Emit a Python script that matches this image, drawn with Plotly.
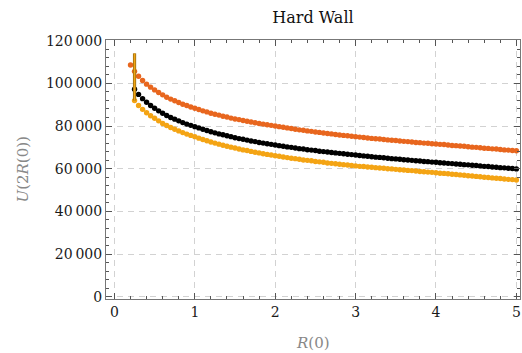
import plotly.graph_objects as go

# ---- data (U values in thousands) ----
x_orange = [round(0.20 + 0.05 * i, 2) for i in range(97)]
u_orange = [108.6, 105.6, 103.3, 101.3, 99.6, 98.2, 96.9,
            95.7, 94.6, 93.5, 92.6, 91.8, 91.0, 90.2, 89.6, 88.9, 88.3,
            87.7, 87.1, 86.6, 86.0, 85.5, 85.1, 84.6, 84.2, 83.7, 83.3,
            83.0, 82.6, 82.2, 81.9, 81.5, 81.2, 80.9, 80.6, 80.3, 80.0,
            79.7, 79.4, 79.1, 78.8, 78.5, 78.2, 78.0, 77.7, 77.5, 77.2,
            77.0, 76.7, 76.5, 76.3, 76.0, 75.8, 75.6, 75.4, 75.2, 75.0,
            74.8, 74.6, 74.4, 74.2, 74.0, 73.9, 73.7, 73.5, 73.3, 73.2,
            73.0, 72.8, 72.7, 72.5, 72.3, 72.2, 72.0, 71.9, 71.7, 71.6,
            71.4, 71.3, 71.1, 70.9, 70.8, 70.6, 70.5, 70.3, 70.1, 70.0,
            69.8, 69.6, 69.5, 69.3, 69.2, 69.0, 68.8, 68.7, 68.5, 68.4]

x_black = [round(0.25 + 0.05 * i, 2) for i in range(96)]
u_black = [97.2, 94.8, 92.8, 91.1, 89.6, 88.3,
           87.1, 86.0, 84.9, 84.0, 83.2, 82.4, 81.6, 80.9, 80.3, 79.7,
           79.1, 78.5, 77.9, 77.3, 76.8, 76.3, 75.9, 75.4, 75.0, 74.5,
           74.1, 73.8, 73.4, 73.0, 72.7, 72.3, 72.0, 71.7, 71.4, 71.1,
           70.8, 70.5, 70.2, 70.0, 69.7, 69.4, 69.2, 68.9, 68.7, 68.5,
           68.2, 68.0, 67.8, 67.6, 67.4, 67.2, 67.0, 66.8, 66.6, 66.4,
           66.2, 66.0, 65.8, 65.6, 65.4, 65.3, 65.1, 64.9, 64.7, 64.6,
           64.4, 64.2, 64.1, 63.9, 63.7, 63.6, 63.4, 63.3, 63.1, 63.0,
           62.8, 62.7, 62.5, 62.4, 62.2, 62.1, 61.9, 61.8, 61.6, 61.5,
           61.3, 61.1, 61.0, 60.8, 60.7, 60.5, 60.4, 60.2, 60.1, 59.9]

x_light = [round(0.25 + 0.05 * i, 2) for i in range(96)]
u_light = [91.9, 89.6, 87.8, 86.2, 84.8, 83.6,
           82.4, 81.2, 80.2, 79.3, 78.5, 77.7, 76.9, 76.2, 75.6, 75.0,
           74.3, 73.7, 73.1, 72.5, 72.0, 71.5, 71.0, 70.5, 70.1, 69.7,
           69.2, 68.8, 68.5, 68.1, 67.7, 67.4, 67.0, 66.7, 66.4, 66.1,
           65.8, 65.5, 65.2, 64.9, 64.7, 64.4, 64.1, 63.9, 63.7, 63.4,
           63.2, 63.0, 62.7, 62.5, 62.3, 62.1, 61.9, 61.7, 61.5, 61.3,
           61.1, 61.0, 60.8, 60.7, 60.5, 60.3, 60.2, 60.0, 59.9, 59.7,
           59.5, 59.4, 59.2, 59.1, 58.9, 58.7, 58.6, 58.4, 58.3, 58.1,
           57.9, 57.8, 57.6, 57.4, 57.3, 57.1, 56.9, 56.7, 56.6, 56.4,
           56.2, 56.0, 55.9, 55.7, 55.5, 55.4, 55.2, 55.0, 54.9, 54.7]

x_vline = [0.25, 0.25]
u_vline = [92.0, 114.0]

SCALE = 1000
y_tickvals = [0, 20000, 40000, 60000, 80000, 100000, 120000]
y_ticktext = ["0", "20\u2009000", "40\u2009000", "60\u2009000", "80\u2009000", "100\u2009000", "120\u2009000"]
x_tickvals = [0, 1, 2, 3, 4, 5]
x_ticktext = ["0", "1", "2", "3", "4", "5"]

SERIF = "DejaVu Serif"
C_ORANGE = "#E8661E"
C_LIGHT = "#F4A414"
C_BLACK = "#000000"

fig = go.Figure()

def mk(x, u, color):
    return go.Scatter(x=x, y=[v * SCALE for v in u], mode="markers",
                      marker=dict(size=5.4, color=color, line=dict(width=0)),
                      showlegend=False, hoverinfo="skip")

fig.add_trace(mk(x_light, u_light, C_LIGHT))
fig.add_trace(mk(x_orange, u_orange, C_ORANGE))
fig.add_trace(mk(x_black, u_black, C_BLACK))

fig.add_trace(go.Scatter(x=x_vline, y=[v * SCALE for v in u_vline], mode="lines",
                         line=dict(color="#8a6410", width=3.2), showlegend=False, hoverinfo="skip"))
fig.add_trace(go.Scatter(x=x_vline, y=[v * SCALE for v in u_vline], mode="lines",
                         line=dict(color="#F2A414", width=1.8), showlegend=False, hoverinfo="skip"))

axis_common = dict(
    showline=True, linecolor="#777777", linewidth=1, mirror="ticks",
    ticks="inside", ticklen=6, tickwidth=1, tickcolor="#555555",
    showgrid=True, gridcolor="#d2d2d2", gridwidth=1, griddash="6px,5px",
    zeroline=False,
    tickfont=dict(family=SERIF, size=14, color="#1a1a1a"),
)

fig.update_xaxes(**axis_common, range=[-0.105, 5.045], tickvals=x_tickvals, ticktext=x_ticktext,
                 minor=dict(dtick=0.2, tick0=0, ticks="inside", ticklen=3, tickcolor="#555555", showgrid=False))
fig.update_yaxes(**axis_common, range=[-1030, 120280], tickvals=y_tickvals, ticktext=y_ticktext,
                 minor=dict(dtick=4000, tick0=0, ticks="inside", ticklen=3, tickcolor="#555555", showgrid=False))

fig.update_layout(
    width=522, height=353,
    margin=dict(l=106, r=2, t=40, b=54),
    paper_bgcolor="white", plot_bgcolor="white",
    font=dict(family=SERIF, size=14, color="#1a1a1a"),
    title=dict(text="Hard Wall", x=0.5, xref="paper", xanchor="center",
               y=1 - 17 / 353, yref="container", yanchor="middle",
               font=dict(family=SERIF, size=16, color="#111111")),
    annotations=[
        dict(text="<i>U</i>(2<i>R</i>(0))", x=-(106 - 22) / (522 - 108), xref="paper",
             y=0.5, yref="paper",
             xanchor="center", yanchor="middle", textangle=-90, showarrow=False,
             font=dict(family=SERIF, size=15, color="#888888")),
        dict(text="<i>R</i>(0)", x=0.5, xref="paper", y=-(343 - 299) / (353 - 94), yref="paper",
             xanchor="center", yanchor="middle", showarrow=False,
             font=dict(family=SERIF, size=15, color="#888888")),
    ],
)

fig.write_html("out.html")
